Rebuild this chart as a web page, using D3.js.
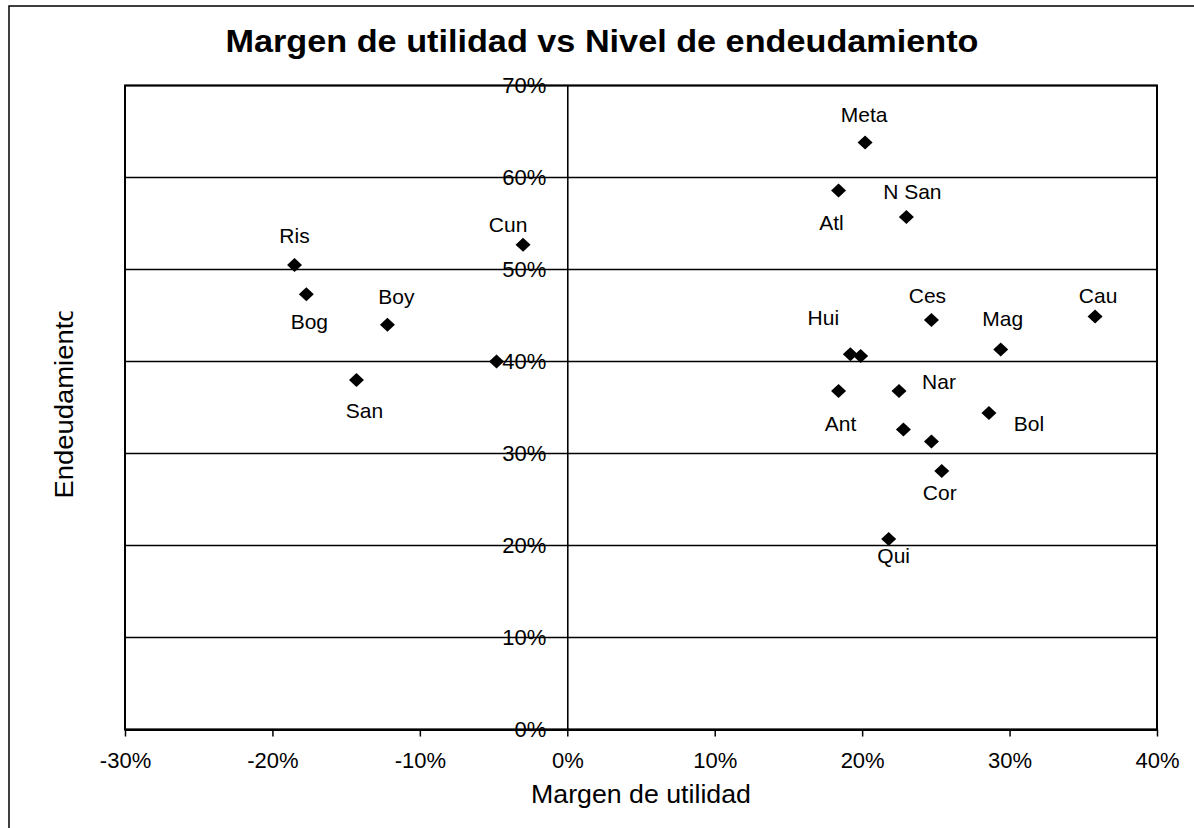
<!DOCTYPE html>
<html>
<head>
<meta charset="utf-8">
<script src="https://cdn.jsdelivr.net/npm/d3@7"></script>
<style>
  html, body { margin: 0; padding: 0; background: #fff; }
  svg { display: block; }
  text { font-family: "Liberation Sans", Arial, sans-serif; fill: #000; }
</style>
</head>
<body>
<svg id="chart" width="1194" height="828"></svg>
<script>
// ---- data ----
const labels  = ["Ris","Bog","Boy","San","Cun","","Meta","Atl","N San","Ces","Cau","Hui","","Mag","Ant","Nar","Bol","","","Cor","Qui"];
const margen  = [-18.5,-17.7,-12.2,-14.3,-3.0,-4.8,20.2,18.4,23.0,24.7,35.8,19.2,19.9,29.4,18.4,22.5,28.6,22.8,24.7,25.4,21.8];
const endeud  = [50.5,47.3,44.0,38.0,52.7,40.0,63.8,58.6,55.7,44.5,44.9,40.8,40.6,41.3,36.8,36.8,34.4,32.6,31.3,28.1,20.7];
const xTicks  = [-0.3,-0.2,-0.1,0,0.1,0.2,0.3,0.4];
const yTicks  = [0,0.1,0.2,0.3,0.4,0.5,0.6,0.7];
const titleText = "Margen de utilidad vs Nivel de endeudamiento";
const xTitle = "Margen de utilidad";
const yTitle = "Endeudamiento";

// ---- layout (label offsets from each marker, px) ----
const labelDx = [0,3,9,8,-15,0,-1,-7,6,-4,3,-27,0,2,2,40,40,0,0,-2,5];
const labelDy = [-22,35,-21,38,-13,0,-21,40,-18,-17,-13,-29,0,-24,40,-2,18,0,0,29,24];

const svg = d3.select("#chart");
const L = 125, R = 1157, T = 85.5, B = 729.5;

const x = d3.scaleLinear().domain([-0.3, 0.4]).range([L, R]);
const y = d3.scaleLinear().domain([0, 0.7]).range([B, T]);
const pct = d => Math.round(d * 100) + "%";

// outer frame
svg.append("rect").attr("x", 9).attr("y", 6).attr("width", 1300).attr("height", 1000)
  .attr("fill", "none").attr("stroke", "#000").attr("stroke-width", 1.5);

// gridlines
svg.append("g").selectAll("line").data(yTicks).join("line")
  .attr("x1", L).attr("x2", R)
  .attr("y1", d => y(d)).attr("y2", d => y(d))
  .attr("stroke", "#000").attr("stroke-width", 1.3);

// plot border
svg.append("rect").attr("x", L).attr("y", T).attr("width", R - L).attr("height", B - T)
  .attr("fill", "none").attr("stroke", "#000").attr("stroke-width", 2);

// x axis
const xAxis = svg.append("g").attr("transform", `translate(0,${B})`)
  .call(d3.axisBottom(x).tickValues(xTicks).tickFormat(pct).tickSizeInner(7).tickSizeOuter(0).tickPadding(16));
xAxis.select(".domain").attr("stroke", "#000").attr("stroke-width", 2);
xAxis.selectAll(".tick line").attr("stroke", "#000").attr("stroke-width", 1.5);
xAxis.selectAll("text").attr("font-size", 22).attr("font-family", "Liberation Sans, Arial, sans-serif").attr("fill", "#000");

// y axis at x = 0
const yAxis = svg.append("g").attr("transform", `translate(${x(0)},0)`)
  .call(d3.axisLeft(y).tickValues(yTicks).tickFormat(pct).tickSizeInner(0).tickSizeOuter(0).tickPadding(21));
yAxis.select(".domain").attr("stroke", "#000").attr("stroke-width", 1.6);
yAxis.selectAll("text").attr("font-size", 22).attr("font-family", "Liberation Sans, Arial, sans-serif").attr("fill", "#000");

// markers
const pts = margen.map((m, i) => ({ x: m / 100, y: endeud[i] / 100, label: labels[i], dx: labelDx[i], dy: labelDy[i] }));
const diamond = "M0,-7L7.5,0L0,7L-7.5,0Z";
svg.append("g").selectAll("path").data(pts).join("path")
  .attr("d", diamond)
  .attr("transform", d => `translate(${x(d.x)},${y(d.y)})`)
  .attr("fill", "#000");

// data labels
svg.append("g").selectAll("text").data(pts.filter(d => d.label)).join("text")
  .attr("x", d => x(d.x) + d.dx)
  .attr("y", d => y(d.y) + d.dy)
  .attr("text-anchor", "middle")
  .attr("font-size", 21)
  .text(d => d.label);

// title
svg.append("text").attr("x", 602).attr("y", 52).attr("text-anchor", "middle")
  .attr("font-size", 32).attr("font-weight", "bold")
  .attr("textLength", 753).attr("lengthAdjust", "spacingAndGlyphs")
  .text(titleText);

// x axis title
svg.append("text").attr("x", (L + R) / 2).attr("y", 803).attr("text-anchor", "middle")
  .attr("font-size", 25)
  .attr("textLength", 220).attr("lengthAdjust", "spacingAndGlyphs")
  .text(xTitle);

// y axis title (clipped at top like the reference)
svg.append("defs").append("clipPath").attr("id", "ytclip")
  .append("rect").attr("x", 0).attr("y", 311.5).attr("width", 120).attr("height", 300);
svg.append("g").attr("clip-path", "url(#ytclip)")
  .append("text")
  .attr("transform", "translate(72.5,498.5) rotate(-90)")
  .attr("text-anchor", "start")
  .attr("font-size", 25)
  .attr("textLength", 192).attr("lengthAdjust", "spacingAndGlyphs")
  .text(yTitle);
</script>
</body>
</html>
